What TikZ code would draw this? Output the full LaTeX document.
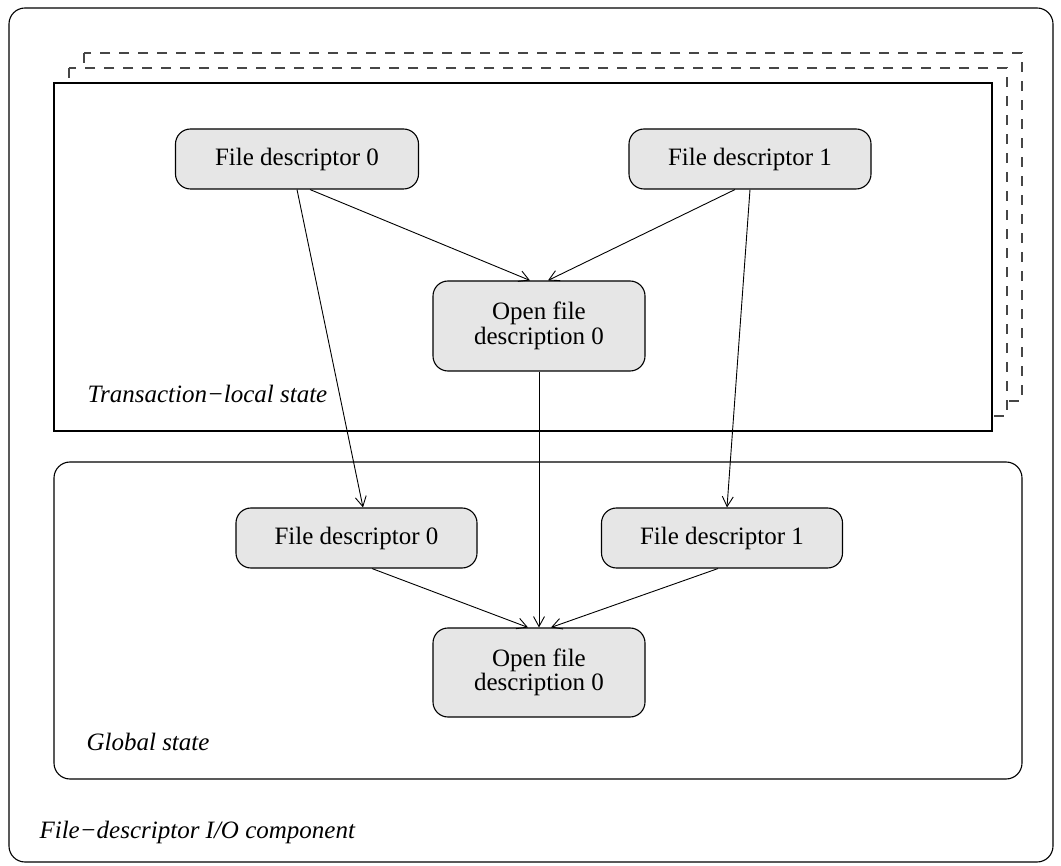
\documentclass[tikz,border=0pt]{standalone}
\usepackage{fontspec}
\setmainfont{Liberation Serif}
\usetikzlibrary{arrows.meta}
\definecolor{boxgray}{RGB}{230,230,230}
\definecolor{ghostline}{RGB}{70,70,70}
\begin{document}
\begin{tikzpicture}[x=1pt,y=-1pt,
  line width=1.1pt,
  box/.style={draw, fill=boxgray, rounded corners=15pt, align=center,
    font=\fontsize{25}{24.5}\selectfont, inner sep=0pt},
  lbl/.style={font=\fontsize{25}{25}\selectfont\itshape, anchor=base west, inner sep=0pt},
  link/.style={-{Straight Barb[length=10pt,width=11pt]}, line width=0.9pt},
  ghost/.style={draw=ghostline, fill=white, dash pattern=on 10pt off 9pt}
]
\useasboundingbox (0,0) rectangle (1061,866);

% component frame
\draw[rounded corners=16pt] (9,8) rectangle (1053,862);

% stacked transaction-local states (copies behind, current in front)
\draw[ghost] (84,53) rectangle (1022,401);
\draw[ghost] (69,68) rectangle (1007,416);
\draw[fill=white] (54,83) rectangle (992,431);

% global state frame
\draw[rounded corners=16pt] (54,462) rectangle (1022,779);

% transaction-local descriptors
\node[box, minimum width=243pt, minimum height=60pt] (fd0t) at (297,159) {File descriptor 0};
\node[box, minimum width=242pt, minimum height=60pt] (fd1t) at (750,159) {File descriptor 1};
\node[box, minimum width=212pt, minimum height=90pt] (ofdt) at (539,326) {Open file\\description 0};

% global descriptors
\node[box, minimum width=241pt, minimum height=60pt] (fd0g) at (356.5,538) {File descriptor 0};
\node[box, minimum width=241pt, minimum height=60pt] (fd1g) at (722,538) {File descriptor 1};
\node[box, minimum width=212pt, minimum height=89pt] (ofdg) at (539,672.5) {Open file\\description 0};

% labels
\node[lbl] (tlabel) at (87,403) {Transaction−local state};
\node[lbl] (glabel) at (86,750) {Global state};
\node[lbl] (clabel) at (39,838) {File−descriptor I/O component};

% references
\draw[link] (fd0t.south) -- ([xshift=6.5pt]fd0g.north);
\draw[link] ([xshift=13pt]fd0t.south) -- ([xshift=-9pt]ofdt.north);
\draw[link] ([xshift=-15pt]fd1t.south) -- ([xshift=9pt]ofdt.north);
\draw[link] (fd1t.south) -- ([xshift=5pt]fd1g.north);
\draw[link] (ofdt.south) -- (ofdg.north);
\draw[link] ([xshift=15.5pt]fd0g.south) -- ([xshift=-11pt]ofdg.north);
\draw[link] ([xshift=-4pt]fd1g.south) -- ([xshift=12pt]ofdg.north);
\end{tikzpicture}
\end{document}
